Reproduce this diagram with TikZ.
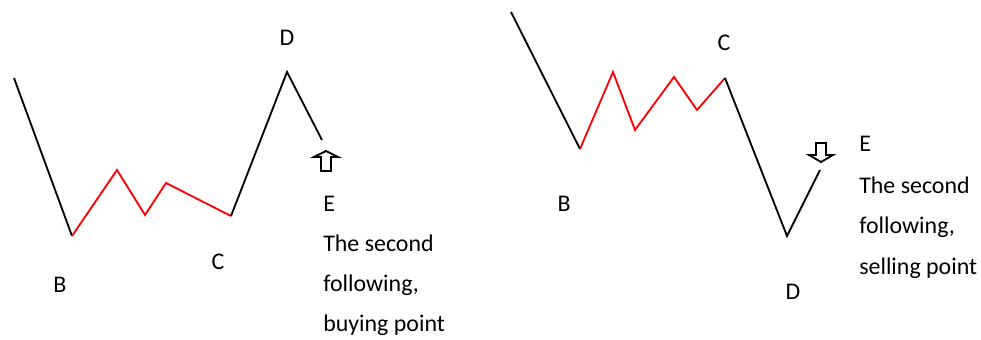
\documentclass[tikz,border=0pt]{standalone}
\usepackage{fontspec}
\setmainfont{Carlito}
\usetikzlibrary{calc}

\begin{document}
\begin{tikzpicture}[x=0.025cm,y=-0.025cm,
    wave/.style={line width=1.3pt,line join=miter},
    lbl/.style={font=\fontsize{17}{20}\selectfont,inner sep=0pt},
    note/.style={lbl,anchor=base west},
    blockarrow/.style={draw,line width=1.3pt,fill=white}]
  \useasboundingbox (0,0) rectangle (981,340);
  % left: buying point
  \coordinate (S1) at (14,78); \coordinate (B1) at (72,236);
  \coordinate (P1) at (117,170); \coordinate (P2) at (145,215);
  \coordinate (P3) at (166,183); \coordinate (C1) at (231,216);
  \coordinate (D1) at (287,72); \coordinate (E1) at (322,140);
  \draw[wave] (S1)--(B1);
  \draw[wave,red] (B1)--(P1)--(P2)--(P3)--(C1);
  \draw[wave] (C1)--(D1)--(E1);
  \coordinate (U) at (326,151);
  \draw[blockarrow] (U) -- ++(12,6) -- ++(-7,0) -- ++(0,14) -- ++(-10,0)
    -- ++(0,-14) -- ++(-7,0) -- cycle;
  \node[lbl] (lD1) at (287,38) {D};
  \node[lbl] (lB1) at (60,285) {B};
  \node[lbl] (lC1) at (218,262) {C};
  \node[note] (lE1) at (323,212) {E};
  \node[note] (t1a) at (323,252) {The second};
  \node[note] (t1b) at (323,292) {following,};
  \node[note] (t1c) at (323,332) {buying point};
  % right: selling point
  \coordinate (S2) at (511,12); \coordinate (B2) at (580,149);
  \coordinate (Q1) at (613,72); \coordinate (Q2) at (635,130);
  \coordinate (Q3) at (674,77); \coordinate (Q4) at (697,110);
  \coordinate (C2) at (725,78); \coordinate (D2) at (787,236);
  \coordinate (E2) at (820,170);
  \draw[wave] (S2)--(B2);
  \draw[wave,red] (B2)--(Q1)--(Q2)--(Q3)--(Q4)--(C2);
  \draw[wave] (C2)--(D2)--(E2);
  \coordinate (W) at (821,162);
  \draw[blockarrow] (W) -- ++(12,-7) -- ++(-7,0) -- ++(0,-12) -- ++(-10,0)
    -- ++(0,12) -- ++(-7,0) -- cycle;
  \node[lbl] (lC2) at (724,43) {C};
  \node[lbl] (lB2) at (564,204) {B};
  \node[lbl] (lD2) at (793,292) {D};
  \node[note] (lE2) at (859,152) {E};
  \node[note] (t2a) at (859,194) {The second};
  \node[note] (t2b) at (859,234) {following,};
  \node[note] (t2c) at (859,275) {selling point};
\end{tikzpicture}
\end{document}
